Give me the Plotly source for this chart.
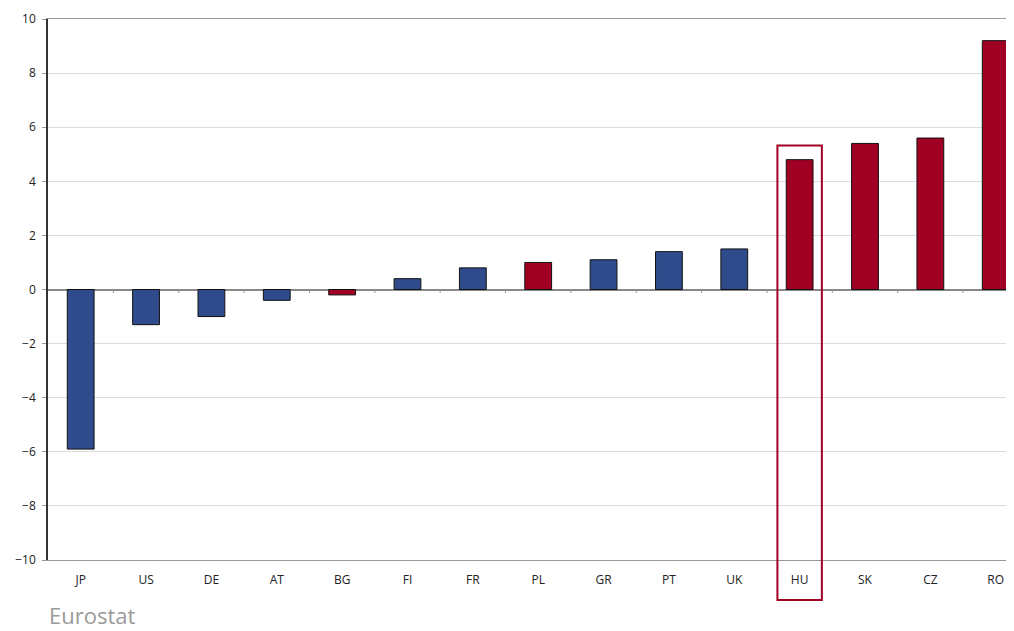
import plotly.graph_objects as go

countries = ["JP", "US", "DE", "AT", "BG", "FI", "FR", "PL", "GR", "PT", "UK", "HU", "SK", "CZ", "RO"]
values = [-5.9, -1.3, -1.0, -0.4, -0.2, 0.4, 0.8, 1.0, 1.1, 1.4, 1.5, 4.8, 5.4, 5.6, 9.2]
group = ["o", "o", "o", "o", "c", "o", "o", "c", "o", "o", "o", "c", "c", "c", "c"]
y_ticks = list(range(-10, 11, 2))
highlight = "HU"

BLUE = "#2F4B8B"
RED = "#A10025"
colors = [RED if g == "c" else BLUE for g in group]

W, H = 1006, 623
ML, MR, MT, MB = 40, 0, 11, 71
PH = H - MT - MB
x_range = [-0.5, -0.5 + (W - ML - MR) / 65.36]

fig = go.Figure(go.Bar(
    x=list(range(len(countries))), y=values,
    marker=dict(color=colors, line=dict(color="#111111", width=1)),
    width=0.41,
))

shapes = []
# small ticks on zero line at category boundaries
for i in range(len(countries)):
    shapes.append(dict(type="line", xref="x", yref="y", x0=i + 0.5, x1=i + 0.5,
                       y0=0, y1=-0.13, line=dict(color="#999999", width=1)))
# highlight box around HU (paper coords from axis range)
hi = countries.index(highlight)
span = x_range[1] - x_range[0]
px0 = (hi - 0.34 - x_range[0]) / span
px1 = (hi + 0.34 - x_range[0]) / span
py1 = (5.32 + 10) / 20
py0 = -40 / PH
shapes.append(dict(type="rect", xref="paper", yref="paper", x0=px0, x1=px1, y0=py0, y1=py1,
                   line=dict(color=RED, width=2), fillcolor="rgba(0,0,0,0)"))

fig.update_layout(
    width=W, height=H,
    margin=dict(l=ML, r=MR, t=MT, b=MB),
    plot_bgcolor="white", paper_bgcolor="white",
    font=dict(family="Open Sans, Liberation Sans, sans-serif", size=12, color="#222222"),
    showlegend=False,
    shapes=shapes,
    annotations=[dict(text="Eurostat", xref="paper", yref="paper", x=0, y=-MB / PH,
                      xanchor="left", yanchor="bottom", showarrow=False, borderpad=0,
                      font=dict(size=22, color="#9a9a9a"))],
    xaxis=dict(range=x_range, tickmode="array", tickvals=list(range(len(countries))),
               ticktext=countries, showgrid=False, zeroline=False,
               showline=True, linecolor="#999999", linewidth=1, mirror=True,
               ticks="", ticklabelstandoff=9, fixedrange=True),
    yaxis=dict(range=[-10, 10], tickmode="array", tickvals=y_ticks,
               showgrid=True, gridcolor="#dcdcdc", gridwidth=1,
               zeroline=True, zerolinecolor="#888888", zerolinewidth=1.5,
               showline=True, linecolor="#333333", linewidth=1.5,
               ticks="outside", ticklen=4, tickcolor="#999999", ticklabelstandoff=4),
    bargap=0.6,
)

fig.write_html("out.html")
